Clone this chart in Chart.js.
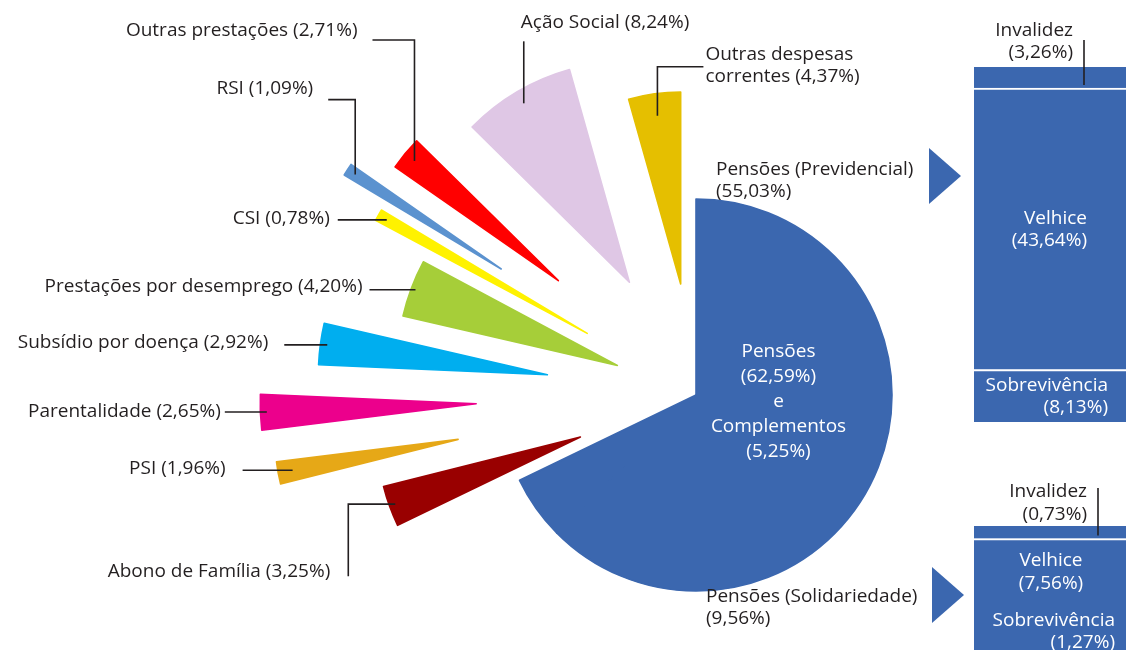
<!DOCTYPE html>
<html lang="pt">
<head>
<meta charset="utf-8">
<title>Estrutura da despesa</title>
<script src="https://cdn.jsdelivr.net/npm/chart.js@4.4.1/dist/chart.umd.min.js"></script>
<style>
  html, body { margin:0; padding:0; background:#fff; }
  body { width:1126px; height:650px; overflow:hidden; position:relative; font-family:"Open Sans", sans-serif; }
  canvas { position:absolute; display:block; }
  #pieCanvas { left:0; top:0; }
  #barPrev { left:974px; top:0; }
  #barSol { left:974px; top:470px; }
  .arrow { position:absolute; width:0; height:0; border-top:28.5px solid transparent; border-bottom:28.5px solid transparent; border-left:32px solid #3B67AF; }
  #arrowPrev { left:929px; top:148px; }
  #arrowSol { left:932px; top:567px; }
</style>
</head>
<body>
<canvas id="pieCanvas" width="1126" height="650"></canvas>
<div class="arrow" id="arrowPrev"></div>
<div class="arrow" id="arrowSol"></div>
<canvas id="barPrev" width="152" height="422"></canvas>
<canvas id="barSol" width="152" height="220"></canvas>
<script>
// ---------------- data ----------------
const categories = ['Pensões', 'Complementos', 'Abono de Família', 'PSI', 'Parentalidade',
  'Subsídio por doença', 'Prestações por desemprego', 'CSI', 'RSI', 'Outras prestações',
  'Ação Social', 'Outras despesas correntes'];
const shares = [62.59, 5.25, 3.25, 1.96, 2.65, 2.92, 4.20, 0.78, 1.09, 2.71, 8.24, 4.37];

const pensionRegimes = ['Previdencial', 'Solidariedade'];
const regimeTotals = [55.03, 9.56];
const pensionParts = ['Invalidez', 'Velhice', 'Sobrevivência'];
const previdencialValues = [3.26, 43.64, 8.13];
const solidariedadeValues = [0.73, 7.56, 1.27];

// ---------------- styles ----------------
const BLUE = '#3B67AF';
const INK = '#231F20';
const FONT = '19px "Open Sans", sans-serif';
const sliceColors = [BLUE, BLUE, '#990000', '#E6A817', '#EC008C', '#00AEEF', '#A6CE39',
  '#FFF200', '#5B92CF', '#FF0000', '#DFC7E5', '#E5BF00'];
const sliceExplode = [0, 0, 123, 242, 220, 150, 84, 125, 232, 179, 131, 112];
const sliceReach = [0.98, 0.98, 1.015, 0.915, 1.08, 1.145, 1.10, 1.20, 0.915, 0.995, 1.105, 0.96];

const pct = v => v.toFixed(2).replace('.', ',') + '%';

// ---------------- exploded wedge element ----------------
class ExplodedArc extends Chart.ArcElement {
  static id = 'explodedArc';
  static defaults = { explode: 0, reach: 1 };
  draw(ctx) {
    const o = this.options;
    const mid = (this.startAngle + this.endAngle) / 2;
    const d = o.explode || 0;
    const ax = this.x + Math.cos(mid) * d, ay = this.y + Math.sin(mid) * d;
    const r = this.outerRadius * (o.reach || 1);
    ctx.save();
    ctx.beginPath();
    ctx.moveTo(ax, ay);
    ctx.arc(ax, ay, r, this.startAngle, this.endAngle);
    ctx.closePath();
    ctx.fillStyle = o.backgroundColor;
    ctx.fill();
    ctx.lineWidth = 1.6;
    ctx.lineJoin = 'round';
    ctx.strokeStyle = o.backgroundColor;
    ctx.stroke();
    ctx.restore();
  }
}
class ExplodedPieController extends Chart.PieController {
  static id = 'explodedPie';
  static defaults = { dataElementType: 'explodedArc' };
}
Chart.register(ExplodedArc, ExplodedPieController);

// ---------------- helpers ----------------
function drawLines(ctx, lines, x, baseline, align, color, lh) {
  ctx.fillStyle = color;
  ctx.textAlign = align;
  ctx.textBaseline = 'alphabetic';
  lines.forEach((t, i) => ctx.fillText(t, x, baseline + i * lh));
}
function drawPath(ctx, pts) {
  ctx.beginPath();
  ctx.moveTo(pts[0][0], pts[0][1]);
  for (let i = 1; i < pts.length; i++) ctx.lineTo(pts[i][0], pts[i][1]);
  ctx.stroke();
}

// label placement relative to the attachment point on each wedge
const sliceLabelLayout = [
  { index: 2, f: 0.97, path: [[0,0],[-47,0],[-47,72]], dx: -65, dy: 73, align: 'right' },
  { index: 3, f: 0.92, path: [[0,0],[-50,0]], dx: -67, dy: 4, align: 'right' },
  { index: 4, f: 0.97, path: [[0,0],[-42,0]], dx: -46, dy: 5, align: 'right' },
  { index: 5, f: 0.97, path: [[0,0],[-43,0]], dx: -59, dy: 3, align: 'right' },
  { index: 6, f: 0.98, path: [[0,0],[-46,0]], dx: -53, dy: 2, align: 'right' },
  { index: 7, f: 0.96, path: [[0,0],[-49,0]], dx: -57, dy: 4, align: 'right' },
  { index: 8, f: 0.95, path: [[0,0],[0,-75],[-27,-75]], dx: -42, dy: -81, align: 'right' },
  { index: 9, f: 0.94, path: [[0,0],[0,-121],[-42,-121]], dx: -57, dy: -125, align: 'right' },
  { index: 10, f: 0.94, path: [[0,0],[0,-62]], dx: -3, dy: -75, align: 'left' },
  { index: 11, f: 0.885, path: [[0,0],[0,-49],[46,-49]], dx: 48, dy: -56, align: 'left', breakAfter: 2 }
];

const pieAnnotations = {
  id: 'pieAnnotations',
  afterDatasetsDraw(chart) {
    const ctx = chart.ctx;
    const meta = chart.getDatasetMeta(0);
    ctx.save();
    ctx.font = FONT;
    ctx.strokeStyle = INK;
    ctx.lineWidth = 1.6;
    sliceLabelLayout.forEach(L => {
      const el = meta.data[L.index];
      const o = el.options;
      const mid = (el.startAngle + el.endAngle) / 2;
      const dist = (o.explode || 0) + el.outerRadius * (o.reach || 1) * L.f;
      const px = el.x + Math.cos(mid) * dist, py = el.y + Math.sin(mid) * dist;
      drawPath(ctx, L.path.map(p => [px + p[0], py + p[1]]));
      const text = categories[L.index] + ' (' + pct(shares[L.index]) + ')';
      let lines = [text];
      if (L.breakAfter) {
        const w = text.split(' ');
        lines = [w.slice(0, L.breakAfter).join(' '), w.slice(L.breakAfter).join(' ')];
      }
      drawLines(ctx, lines, px + L.dx, py + L.dy, L.align, INK, 22);
    });
    // text inside the pensions wedge
    drawLines(ctx, [categories[0], '(' + pct(shares[0]) + ')', 'e', categories[1], '(' + pct(shares[1]) + ')'],
      778.5, 357, 'center', '#FFFFFF', 25);
    // regime labels
    drawLines(ctx, [categories[0] + ' (' + pensionRegimes[0] + ')', '(' + pct(regimeTotals[0]) + ')'],
      716, 175, 'left', INK, 22);
    drawLines(ctx, [categories[0] + ' (' + pensionRegimes[1] + ')', '(' + pct(regimeTotals[1]) + ')'],
      706, 602, 'left', INK, 22);
    ctx.restore();
  }
};

new Chart(document.getElementById('pieCanvas'), {
  type: 'explodedPie',
  data: {
    labels: categories,
    datasets: [{
      data: shares,
      backgroundColor: sliceColors,
      explode: sliceExplode,
      reach: sliceReach,
      borderWidth: 0,
      radius: 200
    }]
  },
  options: {
    responsive: false,
    animation: false,
    events: [],
    layout: { padding: { left: 266, right: 0, top: 140, bottom: 0 } },
    plugins: { legend: { display: false }, tooltip: { enabled: false } }
  },
  plugins: [pieAnnotations]
});

// ---------------- stacked pension bars ----------------
function stackChart(canvasId, values, total, padTop, layout) {
  // datasets bottom -> top : Sobrevivência, Velhice, Invalidez
  const order = [2, 1, 0];
  const datasets = order.map(k => ({
    label: pensionParts[k],
    data: [values[k]],
    backgroundColor: BLUE,
    borderColor: '#FFFFFF',
    borderWidth: k === 0 ? 0 : { top: 2, right: 0, bottom: 0, left: 0 },
    borderSkipped: 'bottom',
    barPercentage: 1,
    categoryPercentage: 1
  }));
  const labelsPlugin = {
    id: 'stackLabels',
    afterDatasetsDraw(chart) {
      const ctx = chart.ctx;
      ctx.save();
      ctx.font = FONT;
      layout.forEach(L => {
        const el = chart.getDatasetMeta(order.indexOf(L.part)).data[0];
        const lines = [pensionParts[L.part], '(' + pct(values[L.part]) + ')'];
        let base = L.baseline;
        if (base === undefined) {
          const c = (el.y + el.base) / 2;
          base = c - 11 + 6;
        }
        if (L.leaderX !== undefined) {
          ctx.strokeStyle = INK;
          ctx.lineWidth = 1.6;
          drawPath(ctx, [[L.leaderX, L.leaderTop], [L.leaderX, el.base - 3]]);
        }
        drawLines(ctx, lines, L.x, base, L.align, L.color, L.lh || 22);
      });
      ctx.restore();
    }
  };
  return new Chart(document.getElementById(canvasId), {
    type: 'bar',
    data: { labels: [pensionParts.join('/')], datasets },
    options: {
      responsive: false,
      animation: false,
      events: [],
      layout: { padding: { top: padTop, left: 0, right: 0, bottom: 0 } },
      plugins: { legend: { display: false }, tooltip: { enabled: false } },
      scales: {
        x: { display: false, stacked: true },
        y: { display: false, stacked: true, min: 0, max: total }
      }
    },
    plugins: [labelsPlugin]
  });
}

stackChart('barPrev', previdencialValues, regimeTotals[0], 67, [
  { part: 0, x: 99, baseline: 36, align: 'right', color: INK, lh: 22, leaderX: 110, leaderTop: 40 },
  { part: 1, x: 113, align: 'right', color: '#FFFFFF' },
  { part: 2, x: 134, align: 'right', color: '#FFFFFF' }
]);
stackChart('barSol', solidariedadeValues, regimeTotals[1], 56, [
  { part: 0, x: 113, baseline: 27, align: 'right', color: INK, lh: 23, leaderX: 124, leaderTop: 18 },
  { part: 1, x: 77, baseline: 96, align: 'center', color: '#FFFFFF', lh: 23 },
  { part: 2, x: 141, baseline: 156, align: 'right', color: '#FFFFFF', lh: 22 }
]);
</script>
</body>
</html>
